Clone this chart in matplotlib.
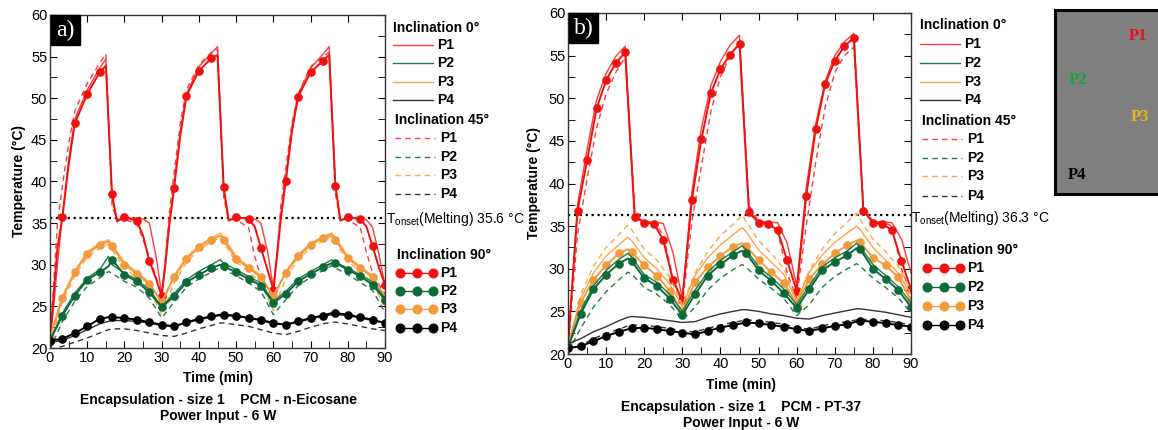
import numpy as np
import matplotlib
matplotlib.use("Agg")
import matplotlib.pyplot as plt
from matplotlib.lines import Line2D
from matplotlib.patches import Rectangle

plt.rcParams['font.family'] = ['Liberation Sans', 'DejaVu Sans']
plt.rcParams['mathtext.default'] = 'regular'

W, H = 1158, 430

# ---- time grids (min) ----
t_p1_a = [0, 1, 2, 3.33, 5, 6.67, 10, 13.33, 15, 16.67, 18, 20, 23.33, 25, 26.67, 28.5,
          30, 31, 32, 33.33, 35, 36.67, 40, 43.33, 45, 46.67, 48, 50, 53.33, 55, 56.67, 58.5,
          60, 61, 62, 63.33, 65, 66.67, 70, 73.33, 75, 76.67, 78, 80, 83.33, 85, 86.67, 88.5, 90]
t_p1_b = np.arange(0, 90.1, 2.5)
t_pts = [0, 3.33, 6.67, 10, 13.33, 15.7, 16.67, 20, 23.33, 26.67, 30,
         33.33, 36.67, 40, 43.33, 45.7, 46.67, 50, 53.33, 56.67, 60,
         63.33, 66.67, 70, 73.33, 75.7, 76.67, 80, 83.33, 86.67, 90]

# ---- panel a: n-Eicosane, Tonset 35.6 ----
a_p1_0 = [21.0, 25.0, 30.0, 35.8, 42.5, 47.5, 51.0, 53.6, 54.7, 38.0, 35.4, 35.6, 35.6, 35.5, 35.0, 31.0,
          26.5, 30.5, 35.0, 39.5, 46.0, 50.5, 53.8, 55.4, 56.2, 39.0, 35.4, 35.6, 35.6, 35.5, 35.0, 31.5,
          27.2, 31.5, 36.0, 40.5, 46.5, 50.5, 53.6, 55.3, 56.2, 39.5, 35.4, 35.6, 35.6, 35.4, 34.5, 31.0, 27.5]
a_p1_45 = [20.3, 28.0, 35.0, 39.5, 44.5, 48.5, 51.8, 54.2, 55.3, 37.0, 35.5, 35.4, 35.0, 33.0, 31.0, 28.5,
           26.0, 30.5, 36.0, 41.0, 47.0, 51.0, 54.0, 55.5, 55.9, 38.0, 35.5, 35.4, 34.5, 31.0, 28.5, 27.0,
           26.0, 31.5, 37.0, 41.5, 47.0, 50.5, 53.8, 55.0, 55.5, 38.5, 35.5, 35.4, 34.5, 31.5, 29.0, 27.5, 26.5]
a_p1_90 = [21.0, 26.5, 32.0, 35.7, 42.0, 47.0, 50.5, 53.1, 53.9, 38.5, 35.2, 35.7, 35.3, 33.5, 30.5, 28.3,
           26.3, 30.0, 34.5, 39.2, 45.5, 50.3, 53.3, 54.8, 55.2, 39.3, 35.3, 35.7, 35.5, 34.6, 32.0, 29.3,
           27.0, 31.0, 35.5, 40.0, 46.0, 50.2, 53.1, 54.5, 55.2, 39.5, 35.3, 35.7, 35.5, 34.6, 32.2, 29.5, 27.6]

a_p2_0 = [20.9, 24.2, 26.6, 28.4, 29.4, 31.0, 30.0, 29.0, 28.2, 27.0, 25.0,
          26.5, 28.2, 29.2, 30.0, 30.6, 30.2, 29.4, 28.6, 27.8, 25.6,
          26.8, 28.3, 29.2, 30.0, 30.6, 30.3, 29.6, 28.8, 27.9, 26.0]
a_p2_45 = [19.8, 23.2, 25.6, 27.4, 28.4, 29.2, 29.0, 28.0, 27.3, 26.0, 23.6,
           25.5, 27.3, 28.3, 29.1, 29.7, 29.4, 28.7, 27.8, 26.8, 24.0,
           25.8, 27.5, 28.5, 29.3, 29.9, 29.6, 28.8, 27.9, 26.9, 24.3]
a_p2_90 = [20.9, 23.9, 26.3, 28.2, 29.1, 29.8, 30.6, 28.8, 28.0, 26.7, 24.9,
           26.2, 27.9, 28.8, 29.6, 30.0, 29.8, 29.1, 28.3, 27.5, 25.4,
           26.5, 28.0, 28.9, 29.7, 30.2, 30.2, 29.4, 28.6, 27.6, 25.8]

a_p3_0 = [21.3, 26.2, 29.3, 31.5, 32.6, 33.0, 32.4, 30.3, 29.1, 27.9, 25.3,
          28.7, 30.9, 32.3, 33.2, 33.8, 33.3, 31.0, 29.8, 28.7, 26.0,
          29.2, 31.2, 32.6, 33.4, 33.8, 33.3, 31.0, 29.8, 28.7, 26.2]
a_p3_45 = [20.5, 25.5, 28.7, 30.9, 32.0, 32.5, 31.8, 29.6, 28.4, 27.0, 24.0,
           27.8, 30.3, 31.8, 32.7, 33.3, 32.7, 30.3, 29.2, 27.8, 24.5,
           28.3, 30.6, 32.0, 32.9, 33.4, 32.7, 30.4, 29.2, 27.8, 24.8]
a_p3_90 = [21.3, 26.0, 29.1, 31.3, 32.4, 32.8, 32.2, 30.0, 28.9, 27.7, 25.5,
           28.5, 30.7, 32.1, 33.0, 33.5, 33.0, 30.7, 29.6, 28.5, 26.3,
           29.0, 31.0, 32.4, 33.2, 33.6, 33.0, 30.8, 29.6, 28.5, 26.0]

a_p4_0 = [20.7, 20.9, 21.5, 22.2, 22.9, 23.2, 23.3, 23.3, 23.2, 23.0, 22.7,
          22.6, 23.0, 23.4, 23.7, 23.9, 23.9, 23.8, 23.6, 23.3, 22.9,
          22.8, 23.1, 23.5, 23.8, 24.0, 24.0, 23.9, 23.6, 23.3, 23.0]
a_p4_45 = [19.8, 20.2, 20.7, 21.2, 21.8, 22.2, 22.3, 22.3, 22.1, 21.8, 21.5,
           21.4, 21.8, 22.3, 22.7, 23.0, 23.0, 22.8, 22.6, 22.2, 21.8,
           21.6, 22.0, 22.5, 22.9, 23.1, 23.1, 22.9, 22.6, 22.3, 22.1]
a_p4_90 = [20.9, 21.1, 21.8, 22.6, 23.5, 23.7, 23.7, 23.6, 23.4, 23.1, 22.8,
           22.6, 23.1, 23.5, 23.8, 24.0, 24.0, 23.9, 23.6, 23.4, 23.0,
           22.8, 23.2, 23.6, 23.9, 24.2, 24.2, 24.0, 23.7, 23.4, 23.0]

# ---- panel b: PT-37, Tonset 36.3 ----
b_p1_0 = [21.0, 37.5, 44.0, 49.8, 52.9, 54.9, 56.1, 36.3, 35.5, 35.5, 35.3, 32.0,
          26.5, 39.0, 46.5, 51.5, 54.3, 56.2, 57.4, 36.8, 35.5, 35.5, 35.4, 33.0,
          28.0, 39.5, 47.0, 52.0, 55.0, 56.6, 57.6, 37.0, 35.5, 35.5, 35.4, 33.5, 29.5]
b_p1_45 = [20.5, 34.0, 40.5, 46.5, 50.5, 53.0, 54.8, 37.0, 35.5, 35.5, 34.0, 29.0,
           25.8, 35.5, 42.0, 48.5, 52.5, 55.0, 56.5, 37.5, 35.5, 35.5, 34.5, 29.5,
           26.5, 35.0, 42.5, 49.0, 53.0, 55.0, 56.0, 37.5, 35.5, 35.5, 35.0, 30.0, 27.0]
b_p1_90 = [21.0, 36.8, 42.7, 48.8, 52.1, 54.1, 55.4, 36.1, 35.4, 35.3, 33.4, 28.7,
           26.3, 38.1, 45.2, 50.6, 53.4, 55.1, 56.4, 36.6, 35.4, 35.3, 34.5, 31.0,
           27.4, 38.5, 46.4, 51.7, 54.4, 56.1, 57.1, 36.8, 35.4, 35.3, 34.5, 30.9, 27.6]

b_p2_0 = [20.8, 25.1, 28.0, 29.8, 31.1, 31.8, 31.4, 29.3, 28.4, 27.0, 25.0,
          27.5, 29.6, 31.0, 32.0, 32.7, 32.3, 30.2, 29.0, 27.6, 25.8,
          28.0, 30.2, 31.3, 32.1, 33.0, 32.6, 30.5, 29.2, 27.9, 26.0]
b_p2_45 = [20.3, 23.0, 25.5, 27.3, 28.7, 29.6, 29.4, 27.8, 27.0, 25.8, 24.0,
           25.5, 27.5, 28.9, 29.9, 30.5, 30.2, 28.8, 27.7, 26.5, 24.5,
           25.8, 27.8, 29.1, 30.0, 30.6, 30.3, 28.9, 27.8, 26.6, 24.8]
b_p2_90 = [20.8, 24.7, 27.6, 29.3, 30.6, 31.2, 30.9, 28.9, 28.0, 26.5, 24.6,
           27.0, 29.2, 30.5, 31.6, 32.1, 31.9, 29.8, 28.6, 27.1, 25.4,
           27.6, 29.8, 30.8, 31.6, 32.4, 32.3, 30.0, 28.8, 27.5, 25.5]

b_p3_0 = [21.0, 26.5, 29.5, 31.5, 32.8, 33.7, 33.3, 31.3, 30.0, 28.2, 25.6,
          29.2, 31.3, 32.8, 34.0, 34.8, 34.4, 32.2, 30.8, 29.3, 26.2,
          29.6, 31.6, 33.1, 34.2, 35.0, 34.6, 32.5, 31.0, 29.5, 27.0]
b_p3_45 = [20.5, 27.0, 30.3, 32.5, 34.0, 35.1, 34.6, 32.3, 31.0, 29.0, 25.8,
           29.5, 32.0, 33.9, 35.2, 36.3, 35.6, 33.3, 31.8, 30.0, 26.3,
           29.8, 32.3, 34.1, 35.5, 36.5, 35.8, 33.5, 32.0, 30.3, 27.5]
b_p3_90 = [21.0, 26.0, 28.7, 30.4, 31.8, 32.3, 32.0, 30.4, 29.2, 27.4, 25.0,
           28.4, 30.2, 31.5, 32.6, 33.0, 32.7, 31.0, 29.6, 28.3, 25.9,
           28.8, 30.5, 31.8, 32.8, 33.3, 33.1, 31.3, 30.4, 29.0, 26.3]

b_p4_0 = [21.2, 21.8, 22.6, 23.2, 23.9, 24.3, 24.4, 24.3, 24.1, 23.9, 23.7,
          23.8, 24.3, 24.7, 25.0, 25.2, 25.2, 25.0, 24.7, 24.5, 24.2,
          24.1, 24.5, 24.8, 25.1, 25.3, 25.3, 25.1, 24.9, 24.6, 24.3]
b_p4_45 = [20.6, 21.0, 21.8, 22.4, 22.9, 23.3, 23.4, 23.4, 23.2, 23.0, 22.7,
           22.6, 23.0, 23.4, 23.7, 23.9, 24.0, 23.9, 23.7, 23.5, 23.1,
           22.9, 23.3, 23.6, 23.8, 24.0, 24.1, 24.0, 23.9, 23.7, 23.4]
b_p4_90 = [20.7, 20.9, 21.5, 22.1, 22.6, 22.9, 23.0, 23.1, 22.9, 22.7, 22.5,
           22.3, 22.7, 23.1, 23.4, 23.6, 23.7, 23.6, 23.4, 23.2, 22.9,
           22.7, 23.0, 23.3, 23.5, 23.8, 23.9, 23.8, 23.6, 23.4, 23.2]

# line colour (0/45 deg), marker colour (90 deg)
colors = {
    'P1': ('#ff3b3b', '#f01010'),
    'P2': ('#1f7d4a', '#0c6a38'),
    'P3': ('#ffa44a', '#f29b3c'),
    'P4': ('#333333', '#000000'),
}
DASH = (0, (4, 3))


def fx(x):
    return x / W


def fy(y):
    return 1 - y / H


def on_grid(t):
    # indices of points that fall on the 10/3 min sampling
    return [i for i, v in enumerate(t) if round(v * 3) % 10 == 0]


def plot_point(ax, t, s0, s45, s90, key, mk):
    c_line, c_mark = colors[key]
    ax.plot(t, s0, color=c_line, lw=1.0)
    ax.plot(t, s45, color=c_line, lw=1.0, ls=DASH)
    ax.plot(t, s90, color=c_mark, lw=1.4, marker='o', ms=5.2, mec=c_mark, markevery=mk)


def style_axes(ax, tonset):
    ax.set_xlim(0, 90)
    ax.set_ylim(20, 60)
    ax.set_xticks(range(0, 91, 10))
    ax.set_xticks(range(5, 91, 10), minor=True)
    ax.set_yticks(range(20, 61, 5))
    ax.set_yticks(np.arange(22.5, 60, 5), minor=True)
    ax.tick_params(which='both', direction='in', top=True, right=True, length=5,
                   labelsize=10.5, pad=2)
    ax.tick_params(which='minor', top=False)
    ax.axhline(tonset, color='black', ls=':', lw=1.6, zorder=1)
    for s in ax.spines.values():
        s.set_linewidth(1.0)
        s.set_color('#333333')


def panel_label(ax, txt, w, h):
    ax.add_patch(Rectangle((0.003, 1 - h), w, h, transform=ax.transAxes,
                           color='black', zorder=5, clip_on=False))
    ax.text(0.003 + w / 2, 1 - h / 2, txt, transform=ax.transAxes, color='white',
            family='Liberation Serif', fontsize=17, ha='center', va='center', zorder=6)


def legend(fig, x0, ys0, ys45, ys90):
    def title(x, y, s):
        fig.text(fx(x), fy(y), s, fontsize=10, fontweight='bold', va='center')

    def lab(x, y, s):
        fig.text(fx(x), fy(y), s, fontsize=10, fontweight='bold', va='center')

    keys = ['P1', 'P2', 'P3', 'P4']
    title(x0, ys0[0], 'Inclination 0°')
    for k, y in zip(keys, ys0[1:]):
        fig.add_artist(Line2D([fx(x0), fx(x0 + 40)], [fy(y), fy(y)], color=colors[k][0], lw=1.0))
        lab(x0 + 44, y, k)
    x1 = x0 + 2
    title(x1, ys45[0], 'Inclination 45°')
    for k, y in zip(keys, ys45[1:]):
        fig.add_artist(Line2D([fx(x1), fx(x1 + 40)], [fy(y), fy(y)], color=colors[k][0],
                              lw=1.0, ls=DASH))
        lab(x1 + 45, y, k)
    x2 = x0 + 4
    title(x2, ys90[0], 'Inclination 90°')
    for k, y in zip(keys, ys90[1:]):
        xs = [fx(x2 + 3), fx(x2 + 19.5), fx(x2 + 36)]
        fig.add_artist(Line2D(xs, [fy(y)] * 3, color=colors[k][1], lw=1.0,
                              marker='o', ms=6.2, mec=colors[k][1]))
        lab(x2 + 43, y, k)


fig = plt.figure(figsize=(W / 100, H / 100), dpi=100)

# panel a
ax1 = fig.add_axes([fx(50), fy(348), fx(335), 333 / H])
plot_point(ax1, t_p1_a, a_p1_0, a_p1_45, a_p1_90, 'P1', on_grid(t_p1_a))
plot_point(ax1, t_pts, a_p3_0, a_p3_45, a_p3_90, 'P3', on_grid(t_pts))
plot_point(ax1, t_pts, a_p2_0, a_p2_45, a_p2_90, 'P2', on_grid(t_pts))
plot_point(ax1, t_pts, a_p4_0, a_p4_45, a_p4_90, 'P4', on_grid(t_pts))
style_axes(ax1, 35.6)
panel_label(ax1, 'a)', 29 / 335, 30 / 333)

# panel b
ax2 = fig.add_axes([fx(568), fy(354), fx(343), 341 / H])
plot_point(ax2, t_p1_b, b_p1_0, b_p1_45, b_p1_90, 'P1', None)
plot_point(ax2, t_pts, b_p3_0, b_p3_45, b_p3_90, 'P3', on_grid(t_pts))
plot_point(ax2, t_pts, b_p2_0, b_p2_45, b_p2_90, 'P2', on_grid(t_pts))
plot_point(ax2, t_pts, b_p4_0, b_p4_45, b_p4_90, 'P4', on_grid(t_pts))
style_axes(ax2, 36.3)
panel_label(ax2, 'b)', 29 / 343, 30 / 341)

# axis titles and captions
for x, y in [(19, 181), (534, 183)]:
    fig.text(fx(x), fy(y), 'Temperature (°C)', rotation=90, fontsize=10,
             fontweight='bold', ha='center', va='center')
for x, y, cap in [(218, 378, 'n-Eicosane'), (741, 385, 'PT-37')]:
    fig.text(fx(x), fy(y), 'Time (min)', fontsize=10, fontweight='bold', ha='center', va='center')
    fig.text(fx(x), fy(y + 22), 'Encapsulation - size 1    PCM - ' + cap, fontsize=10,
             fontweight='bold', ha='center', va='center')
    fig.text(fx(x), fy(y + 38), 'Power Input - 6 W', fontsize=10, fontweight='bold',
             ha='center', va='center')

fig.text(fx(386), fy(219), 'T$_{onset}$(Melting) 35.6 °C', fontsize=10, va='center')
fig.text(fx(911), fy(218), 'T$_{onset}$(Melting) 36.3 °C', fontsize=10, va='center')

legend(fig, 393, [28, 45, 63, 82, 100], [120, 138, 157, 175, 194], [255, 273, 291, 309, 328])
legend(fig, 920, [25, 44, 63, 82, 100], [121, 139, 158, 176, 196], [250, 268, 287, 306, 325])

# sensor position sketch
fig.add_artist(Rectangle((fx(1055), fy(194)), fx(110), 184 / H, transform=fig.transFigure,
                         facecolor='#7f7f7f', edgecolor='black', lw=2.2))
for x, y, s, c in [(1138, 36, 'P1', '#e8101c'), (1078, 80, 'P2', '#19a33a'),
                   (1140, 117, 'P3', '#e9b515'), (1077, 175, 'P4', '#000000')]:
    fig.text(fx(x), fy(y), s, color=c, family='Liberation Serif', fontweight='bold',
             fontsize=12, ha='center', va='center')

fig.savefig('out.png', dpi=100)
